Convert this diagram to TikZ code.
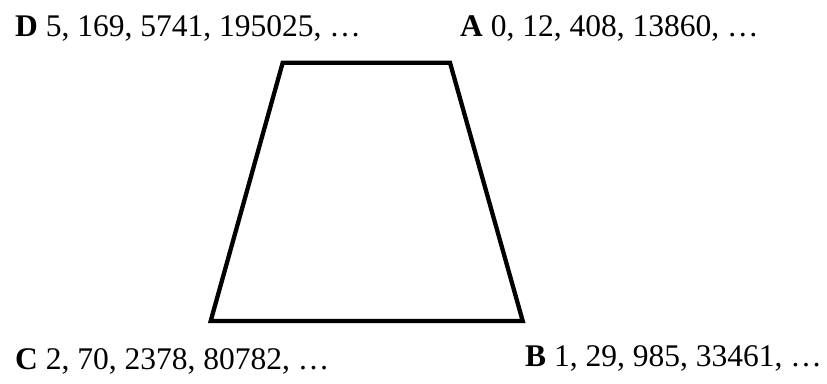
\documentclass[tikz,border=0pt]{standalone}
\usepackage{fontspec}
\setmainfont{Liberation Serif}
\begin{document}
\begin{tikzpicture}[x=1pt,y=-1pt,
  lbl/.style={anchor=base west,inner sep=0pt,font=\fontsize{31.5}{36}\selectfont},
  edge/.style={line width=4.3pt,line join=miter}]
\useasboundingbox (0,0) rectangle (827,383);
\coordinate (tl) at (282.7,62.7);
\coordinate (tr) at (450,62.7);
\coordinate (br) at (522.7,321);
\coordinate (bl) at (210.7,321);
\draw[edge] (tl) -- (tr) -- (br) -- (bl) -- cycle;
\node[lbl] (D) at (15,36) {\textbf{D} 5, 169, 5741, 195025, …};
\node[lbl] (A) at (460,36) {\textbf{A} 0, 12, 408, 13860, …};
\node[lbl] (C) at (15,369) {\textbf{C} 2, 70, 2378, 80782, …};
\node[lbl] (B) at (525,366.7) {\textbf{B} 1, 29, 985, 33461, …};
\end{tikzpicture}
\end{document}
